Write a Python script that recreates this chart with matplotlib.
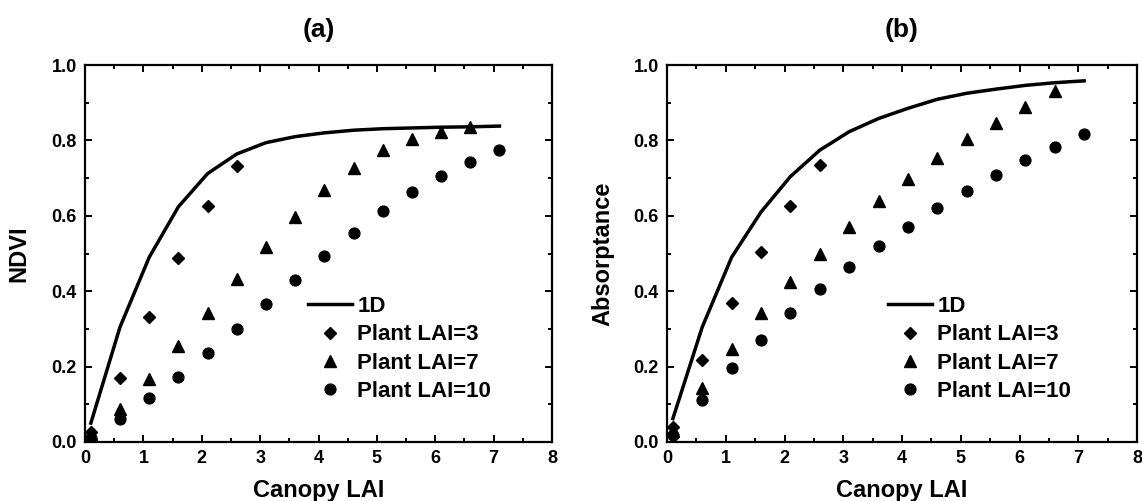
import matplotlib.pyplot as plt
import numpy as np

plt.rcParams['font.family'] = ['Liberation Sans', 'DejaVu Sans']
plt.rcParams['font.weight'] = 'bold'

# canopy LAI sample points
lai = np.arange(0.1, 7.2, 0.5)

# (a) NDVI
ndvi_1d = [0.05, 0.305, 0.49, 0.624, 0.712, 0.764, 0.794, 0.81, 0.82, 0.827,
           0.831, 0.833, 0.835, 0.836, 0.838]
ndvi_p3 = [0.027, 0.170, 0.332, 0.488, 0.627, 0.732]
ndvi_p7 = [0.02, 0.088, 0.168, 0.254, 0.342, 0.433, 0.518, 0.597, 0.668, 0.726,
           0.774, 0.805, 0.823, 0.836]
ndvi_p10 = [0.01, 0.062, 0.118, 0.173, 0.235, 0.299, 0.365, 0.430, 0.493, 0.555,
            0.612, 0.662, 0.706, 0.742, 0.774]

# (b) Absorptance
abs_1d = [0.062, 0.305, 0.49, 0.61, 0.704, 0.774, 0.823, 0.858, 0.885, 0.909,
          0.925, 0.936, 0.946, 0.953, 0.958]
abs_p3 = [0.04, 0.217, 0.370, 0.504, 0.627, 0.736]
abs_p7 = [0.03, 0.143, 0.246, 0.341, 0.425, 0.500, 0.571, 0.639, 0.697, 0.752,
          0.803, 0.847, 0.889, 0.931]
abs_p10 = [0.018, 0.112, 0.195, 0.270, 0.341, 0.406, 0.465, 0.519, 0.571, 0.621,
           0.665, 0.708, 0.748, 0.783, 0.816]

fig = plt.figure(figsize=(11.42, 5.01), dpi=100)
ax_a = fig.add_axes([85 / 1142, 59 / 501, 467 / 1142, 377 / 501])
ax_b = fig.add_axes([667 / 1142, 59 / 501, 470 / 1142, 377 / 501])


def draw(ax, y1d, p3, p7, p10, ylabel, title, legx, ylabx):
  ax.plot(lai, y1d, color='black', lw=2.5, label='1D')
  ax.plot(lai[:len(p3)], p3, 'D', color='black', ms=6.5, ls='none', label='Plant LAI=3')
  ax.plot(lai[:len(p7)], p7, '^', color='black', ms=8, ls='none', label='Plant LAI=7')
  ax.plot(lai[:len(p10)], p10, 'o', color='black', ms=7.8, ls='none', label='Plant LAI=10')
  ax.set_xlim(0, 8)
  ax.set_ylim(0, 1)
  ax.set_xticks(np.arange(0, 9, 1))
  ax.set_xticks(np.arange(0, 8.01, 0.5), minor=True)
  ax.set_yticks(np.arange(0, 1.01, 0.2))
  ax.set_yticks(np.arange(0, 1.01, 0.1), minor=True)
  ax.set_yticklabels(['%.1f' % v for v in np.arange(0, 1.01, 0.2)])
  ax.tick_params(which='both', direction='in', top=True, right=True, labelsize=13)
  ax.tick_params(which='major', length=5, width=1.4, pad=6)
  ax.tick_params(which='minor', length=3, width=1.4)
  for s in ax.spines.values():
    s.set_linewidth(1.6)
  ax.set_xlabel('Canopy LAI', fontsize=17, fontweight='bold')
  ax.set_ylabel(ylabel, fontsize=17, fontweight='bold')
  ax.xaxis.set_label_coords(0.5, -0.098)
  ax.yaxis.set_label_coords(ylabx, 0.5)
  ax.set_title(title, fontsize=19, fontweight='bold', pad=20)
  ax.legend(loc='upper left', bbox_to_anchor=(legx, 0.387), frameon=False,
            handlelength=2.0, handletextpad=0.22, labelspacing=0.33,
            borderpad=0, borderaxespad=0, prop={'weight': 'bold', 'size': 16})


draw(ax_a, ndvi_1d, ndvi_p3, ndvi_p7, ndvi_p10, 'NDVI', '(a)', 0.4775, -0.118)
draw(ax_b, abs_1d, abs_p3, abs_p7, abs_p10, 'Absorptance', '(b)', 0.470, -0.111)

fig.savefig('out.png', dpi=100)
